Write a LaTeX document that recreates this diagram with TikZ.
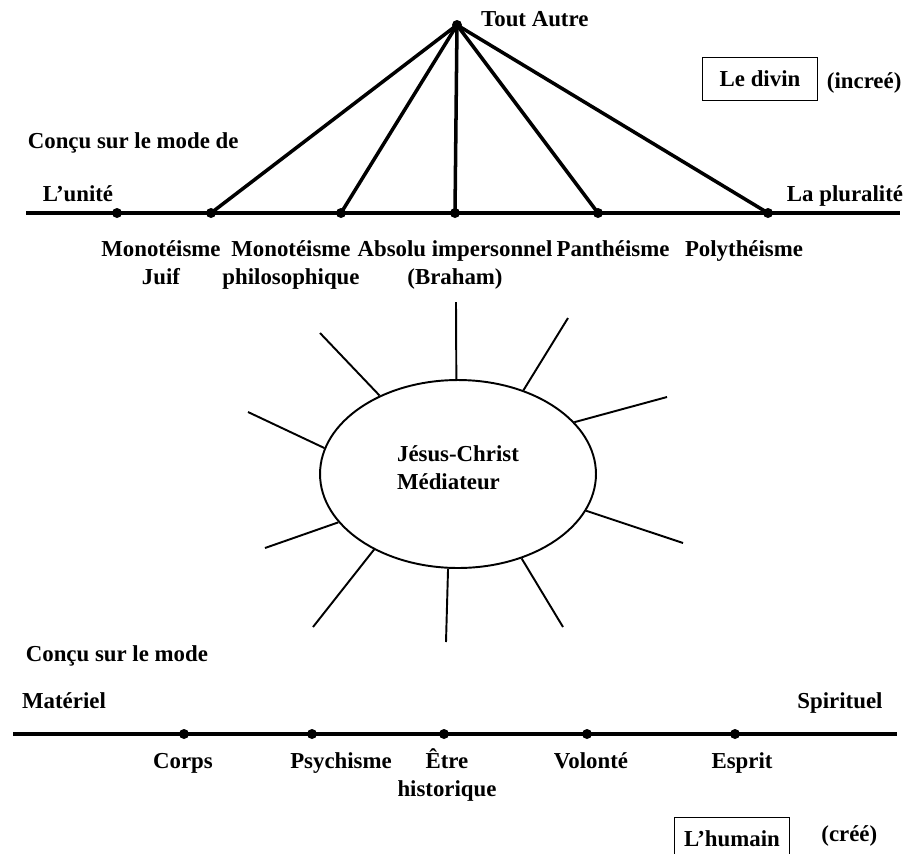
\documentclass[tikz,border=0pt]{standalone}
\usepackage{fontspec}
\setmainfont{Liberation Serif}
\usepackage{tikz}
\usetikzlibrary{shapes.geometric, positioning}
\newcommand{\hd}{\rule[-3.5pt]{0pt}{16pt}}
\tikzset{
    lbl/.style={font=\fontsize{13}{15.5}\selectfont\bfseries, align=center, inner sep=2pt, anchor=north, execute at begin node=\hd},
    pt/.style={circle, fill=black, inner sep=0pt, minimum size=0.2cm},
    axis/.style={line width=2pt},
    spoke/.style={line width=2pt},
    ray/.style={line width=1.1pt},
    framebox/.style={rectangle, draw, line width=0.7pt, minimum width=2.3cm, minimum height=0.86cm, font=\fontsize{13}{15.5}\selectfont\bfseries},
    mediator/.style={ellipse, draw, line width=1.1pt, minimum width=5.52cm, minimum height=3.76cm, align=left, text depth=0.26cm, font=\fontsize{13}{15.5}\selectfont\bfseries}
}
\begin{document}
\begin{tikzpicture}[x=0.02cm, y=-0.02cm]
    \useasboundingbox (0,0) rectangle (907,853);

    % le divin
    \node [pt] (top) at (457,25) {};
    \node [lbl, right=0.3cm of top, yshift=0.12cm] (toutautre) {Tout Autre};
    \node [framebox] (divin) at (760,79) {Le divin};
    \node [lbl, right=0.1cm of divin, yshift=-0.04cm] (incree) {(increé)};
    \node [lbl, anchor=north west] (concu1) at (24,123) {Conçu sur le mode de};
    \node [lbl] (unite) at (78,176) {L’unité};
    \node [lbl] (pluralite) at (845,176) {La pluralité};

    \coordinate (ta) at (26,213);
    \coordinate (tb) at (900,213);
    \draw [axis] (ta) -- (tb);
    \node [pt] (u0) at (117,213) {};
    \node [pt] (u1) at (211,213) {};
    \node [pt] (u2) at (341,213) {};
    \node [pt] (u3) at (455,213) {};
    \node [pt] (u4) at (598,213) {};
    \node [pt] (u5) at (768,213) {};
    \foreach \i in {1,...,5}
        \draw [spoke] (top.center) -- (u\i.center);

    \node [lbl] (juif) at (161,231) {\hd Monotéisme\\Juif};
    \node [lbl] (philo) at (291,231) {\hd Monotéisme\\philosophique};
    \node [lbl] (absolu) at (455,231) {\hd Absolu impersonnel\\(Braham)};
    \node [lbl] (panth) at (613,231) {Panthéisme};
    \node [lbl] (poly) at (744,231) {Polythéisme};

    % mediateur
    \node [mediator] (jc) at (458,474) {Jésus-Christ\\Médiateur};
    \foreach \a/\x/\y [count=\i] in {91/456/302, 52/568/318, 24/667/397, -16/683/543, -53/563/627,
                                    -96/446/642, 222/313/627, 202/265/548, 169/248/412, 135/320/333} {
        \coordinate (r\i) at (\x,\y);
        \draw [ray] (jc.\a) -- (r\i);
    }

    % l'humain
    \node [lbl, anchor=north west] (concu2) at (22,636) {Conçu sur le mode};
    \node [lbl] (materiel) at (64,683) {Matériel};
    \node [lbl] (spirituel) at (840,683) {Spirituel};

    \coordinate (ba) at (13,734);
    \coordinate (bb) at (897,734);
    \draw [axis] (ba) -- (bb);
    \node [pt] (h1) at (184,734) {};
    \node [pt] (h2) at (312,734) {};
    \node [pt] (h3) at (444,734) {};
    \node [pt] (h4) at (587,734) {};
    \node [pt] (h5) at (735,734) {};

    \node [lbl] (corps) at (183,743) {Corps};
    \node [lbl] (psy) at (341,743) {Psychisme};
    \node [lbl] (etre) at (447,743) {\hd Être\\historique};
    \node [lbl] (volonte) at (591,743) {Volonté};
    \node [lbl] (esprit) at (742,743) {Esprit};

    \node [framebox] (humain) at (732,839) {L’humain};
    \node [lbl, right=0.55cm of humain, yshift=0.1cm] (cree) {(créé)};
\end{tikzpicture}
\end{document}
